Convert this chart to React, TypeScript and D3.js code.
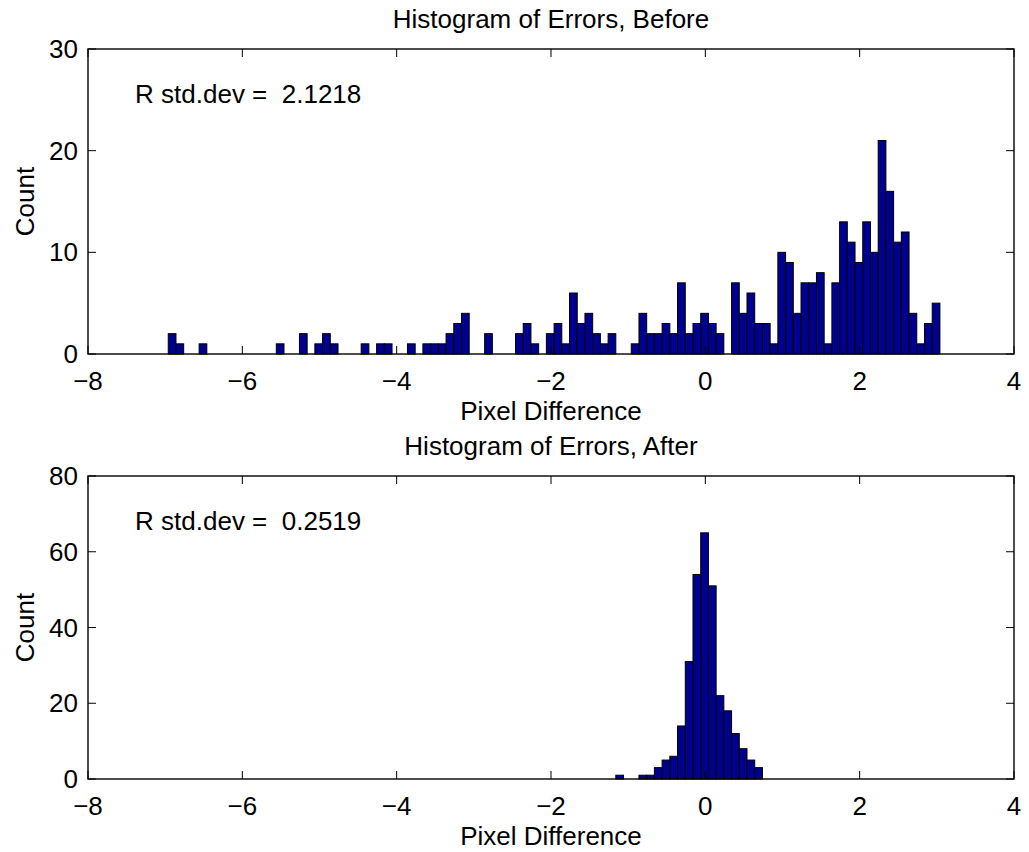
import React from "react";
import * as d3 from "d3";

// Bin centers (width 0.1), shared by both histograms
const binCenters: number[] = [
  -6.91, -6.81, -6.71, -6.61, -6.51, -6.41, -6.31, -6.21, -6.11, -6.01,
  -5.91, -5.81, -5.71, -5.61, -5.51, -5.41, -5.31, -5.21, -5.11, -5.01,
  -4.91, -4.81, -4.71, -4.61, -4.51, -4.41, -4.31, -4.21, -4.11, -4.01,
  -3.91, -3.81, -3.71, -3.61, -3.51, -3.41, -3.31, -3.21, -3.11, -3.01,
  -2.91, -2.81, -2.71, -2.61, -2.51, -2.41, -2.31, -2.21, -2.11, -2.01,
  -1.91, -1.81, -1.71, -1.61, -1.51, -1.41, -1.31, -1.21, -1.11, -1.01,
  -0.91, -0.81, -0.71, -0.61, -0.51, -0.41, -0.31, -0.21, -0.11, -0.01,
  0.09, 0.19, 0.29, 0.39, 0.49, 0.59, 0.69, 0.79, 0.89, 0.99,
  1.09, 1.19, 1.29, 1.39, 1.49, 1.59, 1.69, 1.79, 1.89, 1.99,
  2.09, 2.19, 2.29, 2.39, 2.49, 2.59, 2.69, 2.79, 2.89, 2.99,
];
const binWidth = 0.1;

const beforeCounts: number[] = [
  2, 1, 0, 0, 1, 0, 0, 0, 0, 0,
  0, 0, 0, 0, 1, 0, 0, 2, 0, 1,
  2, 1, 0, 0, 0, 1, 0, 1, 1, 0,
  0, 1, 0, 1, 1, 1, 2, 3, 4, 0,
  0, 2, 0, 0, 0, 2, 3, 1, 0, 2,
  3, 1, 6, 3, 4, 2, 1, 2, 0, 0,
  1, 4, 2, 2, 3, 2, 7, 2, 3, 4,
  3, 2, 0, 7, 4, 6, 3, 3, 1, 10,
  9, 4, 7, 7, 8, 1, 7, 13, 11, 9,
  13, 10, 21, 16, 11, 12, 4, 1, 3, 5,
];

const afterCounts: number[] = [
  0, 0, 0, 0, 0, 0, 0, 0, 0, 0,
  0, 0, 0, 0, 0, 0, 0, 0, 0, 0,
  0, 0, 0, 0, 0, 0, 0, 0, 0, 0,
  0, 0, 0, 0, 0, 0, 0, 0, 0, 0,
  0, 0, 0, 0, 0, 0, 0, 0, 0, 0,
  0, 0, 0, 0, 0, 0, 0, 0, 1, 0,
  0, 1, 1, 3, 5, 6, 14, 31, 54, 65,
  51, 22, 18, 12, 8, 5, 3, 0, 0, 0,
  0, 0, 0, 0, 0, 0, 0, 0, 0, 0,
  0, 0, 0, 0, 0, 0, 0, 0, 0, 0,
];

const xTicks: number[] = [-8, -6, -4, -2, 0, 2, 4];
const yTicksBefore: number[] = [0, 10, 20, 30];
const yTicksAfter: number[] = [0, 20, 40, 60, 80];

const titles = ["Histogram of Errors, Before", "Histogram of Errors, After"];
const stdLabels = ["R std.dev =  2.1218", "R std.dev =  0.2519"];
const xLabel = "Pixel Difference";
const yLabel = "Count";

const FONT = "'Liberation Sans', Arial, Helvetica, sans-serif";
const FS = 26;
const BAR_FILL = "#00008f";

function fmt(v: number) {
  return v < 0 ? "\u2212" + Math.abs(v) : String(v);
}

function Panel(props: {
  top: number;
  bottom: number;
  counts: number[];
  yMax: number;
  yTicks: number[];
  title: string;
  note: string;
}) {
  const { top, bottom, counts, yMax, yTicks, title, note } = props;
  const left = 88;
  const right = 1014;
  const x = d3.scaleLinear().domain([-8, 4]).range([left, right]);
  const y = d3.scaleLinear().domain([0, yMax]).range([bottom, top]);
  const tickLen = 8;
  const cx = (left + right) / 2;

  return (
    <g>
      {binCenters.map((c, i) =>
        counts[i] > 0 ? (
          <rect
            key={i}
            x={x(c - binWidth / 2)}
            y={y(counts[i])}
            width={x(c + binWidth / 2) - x(c - binWidth / 2)}
            height={y(0) - y(counts[i])}
            fill={BAR_FILL}
            stroke="#000"
            strokeWidth={1}
          />
        ) : null
      )}
      <rect
        x={left}
        y={top}
        width={right - left}
        height={bottom - top}
        fill="none"
        stroke="#000"
        strokeWidth={1.4}
      />
      {xTicks.map((t) => (
        <g key={"x" + t}>
          <line x1={x(t)} x2={x(t)} y1={bottom} y2={bottom - tickLen} stroke="#000" strokeWidth={1} />
          <line x1={x(t)} x2={x(t)} y1={top} y2={top + tickLen} stroke="#000" strokeWidth={1} />
          <text x={x(t)} y={bottom + 36} textAnchor="middle" fontFamily={FONT} fontSize={FS}>
            {fmt(t)}
          </text>
        </g>
      ))}
      {yTicks.map((t) => (
        <g key={"y" + t}>
          <line x1={left} x2={left + tickLen} y1={y(t)} y2={y(t)} stroke="#000" strokeWidth={1} />
          <line x1={right} x2={right - tickLen} y1={y(t)} y2={y(t)} stroke="#000" strokeWidth={1} />
          <text x={78} y={y(t)} dy="0.35em" textAnchor="end" fontFamily={FONT} fontSize={FS}>
            {fmt(t)}
          </text>
        </g>
      ))}
      <text x={cx} y={top - 21} textAnchor="middle" fontFamily={FONT} fontSize={FS}>
        {title}
      </text>
      <text x={cx} y={bottom + 66} textAnchor="middle" fontFamily={FONT} fontSize={FS}>
        {xLabel}
      </text>
      <text
        transform={`translate(34,${(top + bottom) / 2}) rotate(-90)`}
        textAnchor="middle"
        fontFamily={FONT}
        fontSize={FS}
      >
        {yLabel}
      </text>
      <text x={x(-7.39)} y={top + 54} fontFamily={FONT} fontSize={FS} style={{ whiteSpace: "pre" }}>
        {note}
      </text>
    </g>
  );
}

export default function App() {
  return (
    <svg
      width={1029}
      height={852}
      style={{ position: "absolute", left: 0, top: 0, background: "#fff" }}
    >
      <rect x={0} y={0} width={1029} height={852} fill="#fff" />
      <Panel
        top={49}
        bottom={354}
        counts={beforeCounts}
        yMax={30}
        yTicks={yTicksBefore}
        title={titles[0]}
        note={stdLabels[0]}
      />
      <Panel
        top={476}
        bottom={779}
        counts={afterCounts}
        yMax={80}
        yTicks={yTicksAfter}
        title={titles[1]}
        note={stdLabels[1]}
      />
    </svg>
  );
}
